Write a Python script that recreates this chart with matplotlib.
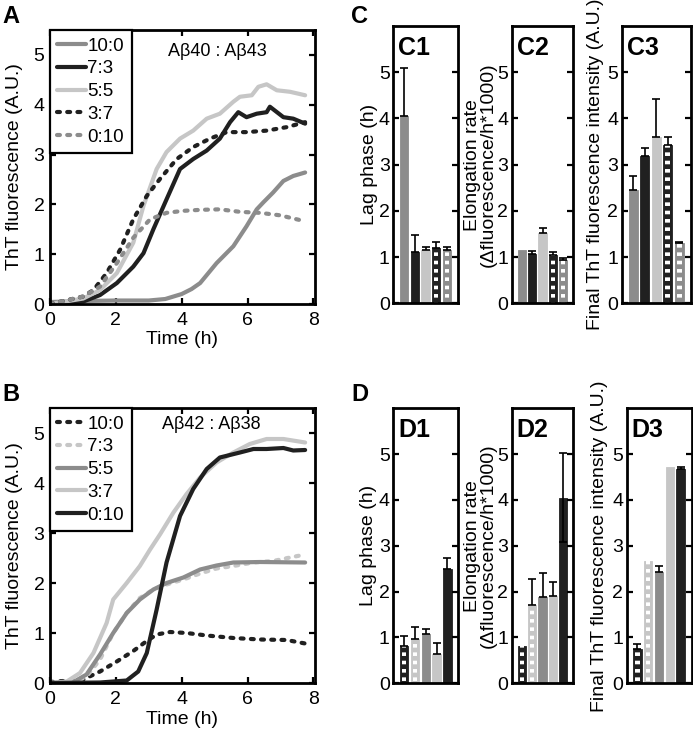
import numpy as np
import matplotlib
matplotlib.use('Agg')
import matplotlib.pyplot as plt

plt.rcParams['font.family'] = ['Liberation Sans', 'DejaVu Sans']
plt.rcParams['hatch.linewidth'] = 2.6
plt.rcParams['axes.linewidth'] = 2.0

W, H = 693, 733

ratios = ['10:0', '7:3', '5:5', '3:7', '0:10']

# --- panel A : Abeta40 : Abeta43 kinetics (time in h, ThT in A.U.)
a_t_100 = [0, 1, 2, 3, 3.5, 4.0, 4.3, 4.56, 5.06, 5.57, 5.97, 6.28, 6.48, 6.78, 7.09, 7.39, 7.75]
a_y_100 = [0.04, 0.06, 0.07, 0.07, 0.1, 0.2, 0.3, 0.42, 0.82, 1.16, 1.56, 1.9, 2.04, 2.24, 2.47, 2.57, 2.64]
a_t_73 = [0, 1.01, 1.52, 2.03, 2.53, 2.84, 3.14, 3.54, 3.95, 4.35, 4.76, 5.16, 5.47, 5.72, 5.97, 6.28, 6.58, 6.68, 7.09, 7.39, 7.75]
a_y_73 = [0, 0.05, 0.18, 0.42, 0.75, 1.02, 1.5, 2.1, 2.71, 2.91, 3.08, 3.32, 3.65, 3.85, 3.75, 3.82, 3.85, 3.96, 3.75, 3.72, 3.62]
a_t_55 = [0, 1.01, 1.52, 2.03, 2.53, 2.84, 3.24, 3.54, 3.95, 4.35, 4.76, 5.16, 5.57, 5.77, 6.13, 6.33, 6.58, 6.89, 7.29, 7.75]
a_y_55 = [0, 0.11, 0.28, 0.62, 1.23, 1.97, 2.71, 3.05, 3.32, 3.48, 3.72, 3.82, 4.06, 4.16, 4.19, 4.36, 4.41, 4.29, 4.26, 4.19]
a_t_37 = [0, 1.01, 1.32, 1.72, 2.13, 2.53, 2.94, 3.34, 3.85, 4.35, 4.86, 5.37, 5.97, 6.58, 7.19, 7.75]
a_y_37 = [0, 0.15, 0.28, 0.62, 1.09, 1.7, 2.17, 2.51, 2.91, 3.15, 3.32, 3.45, 3.45, 3.48, 3.55, 3.65]
a_t_010 = [0, 1.01, 1.52, 2.03, 2.53, 3.04, 3.54, 4.05, 4.56, 5.16, 5.77, 6.38, 6.99, 7.75]
a_y_010 = [0, 0.15, 0.35, 0.82, 1.33, 1.7, 1.83, 1.87, 1.89, 1.9, 1.85, 1.83, 1.78, 1.66]

# --- panel B : Abeta42 : Abeta38 kinetics
b_t_100 = [0, 1.01, 1.52, 2.03, 2.53, 2.94, 3.24, 3.65, 4.15, 4.76, 5.57, 6.38, 7.19, 7.75]
b_y_100 = [0.02, 0.07, 0.23, 0.43, 0.64, 0.84, 0.97, 1.02, 1.0, 0.95, 0.9, 0.87, 0.86, 0.79]
b_t_73 = [0, 0.81, 1.11, 1.52, 1.92, 2.33, 2.73, 3.14, 3.54, 4.05, 4.56, 5.06, 5.57, 6.18, 6.78, 7.29, 7.75]
b_y_73 = [0, 0.03, 0.13, 0.47, 1.0, 1.4, 1.7, 1.87, 1.97, 2.07, 2.19, 2.29, 2.34, 2.41, 2.44, 2.51, 2.57]
b_t_55 = [0, 0.71, 1.11, 1.52, 1.92, 2.33, 2.73, 3.14, 3.54, 4.05, 4.56, 5.06, 5.57, 6.38, 7.75]
b_y_55 = [0, 0.02, 0.17, 0.57, 1.0, 1.4, 1.67, 1.87, 2.0, 2.11, 2.27, 2.35, 2.41, 2.42, 2.41]
b_t_37 = [0, 0.51, 0.91, 1.32, 1.72, 1.92, 2.33, 2.73, 3.04, 3.34, 3.75, 4.15, 4.56, 5.06, 5.57, 6.07, 6.58, 7.09, 7.75]
b_y_37 = [0, 0.03, 0.2, 0.6, 1.2, 1.67, 2.0, 2.34, 2.67, 2.97, 3.41, 3.78, 4.11, 4.41, 4.61, 4.78, 4.88, 4.88, 4.81]
b_t_010 = [0, 1.52, 2.33, 2.68, 2.94, 3.24, 3.54, 3.95, 4.35, 4.76, 5.16, 5.77, 6.18, 6.58, 7.09, 7.39, 7.75]
b_y_010 = [0, 0.01, 0.05, 0.23, 0.6, 1.47, 2.41, 3.34, 3.88, 4.28, 4.51, 4.61, 4.68, 4.68, 4.7, 4.65, 4.66]

# --- panel C bars (Abeta40 : Abeta43)
c1_lag = [4.05, 1.1, 1.15, 1.2, 1.15]
c1_err = [1.05, 0.38, 0.06, 0.13, 0.06]
c2_rate = [1.15, 1.07, 1.53, 1.05, 0.93]
c2_err = [0, 0.06, 0.09, 0.05, 0.06]
c3_final = [2.45, 3.19, 3.59, 3.43, 1.3]
c3_err = [0.3, 0.16, 0.84, 0.17, 0.02]

# --- panel D bars (Abeta42 : Abeta38)
d1_lag = [0.82, 0.96, 1.07, 0.65, 2.49]
d1_err = [0.22, 0.26, 0.12, 0.22, 0.24]
d2_rate = [0.82, 1.71, 1.89, 1.91, 4.05]
d2_err = [0, 0.57, 0.51, 0.29, 0.97]
d2_err_lo = [0, 0, 0, 0, 0.97]
d3_final = [0.74, 2.67, 2.42, 4.71, 4.68]
d3_err = [0.11, 0, 0.14, 0, 0.05]

GRAY = '#8c8c8c'
DARK = '#202020'
LIGHT = '#c6c6c6'
DASH = (0, (0.7, 1.75))


def rect(l, t, r, b):
    return [l / W, 1 - b / H, (r - l) / W, (b - t) / H]


fig = plt.figure(figsize=(W / 100, H / 100), dpi=100)


def kinetics(r, series, styles, title, tpos):
    ax = fig.add_axes(rect(*r))
    for (t, y), (c, ls), lab in zip(series, styles, ratios):
        ax.plot(t, y, color=c, lw=3, ls=ls, label=lab,
                dash_capstyle='round', solid_capstyle='round')
    ax.set_xlim(0, 8.05)
    ax.set_ylim(0, 5.5)
    ax.set_xticks([0, 2, 4, 6, 8])
    ax.set_yticks([0, 1, 2, 3, 4, 5])
    ax.tick_params(direction='in', top=True, right=True, length=4, width=1.6,
                   labelsize=14, pad=4)
    ax.tick_params(axis='x', pad=6)
    ax.set_xlabel('Time (h)', fontsize=14)
    ax.set_ylabel('ThT fluorescence (A.U.)', fontsize=14)
    ax.xaxis.set_label_coords(0.5, -0.1)
    ax.yaxis.set_label_coords(-0.1, 0.5)
    ax.text(tpos[0], tpos[1], title, transform=ax.transAxes, fontsize=13,
            ha='center', va='center')
    leg = ax.legend(loc='upper left', fontsize=13.5, frameon=True, fancybox=False,
                    borderaxespad=0, borderpad=0.4, labelspacing=0.3,
                    handlelength=1.5, handletextpad=0.1)
    leg.get_frame().set_edgecolor('black')
    leg.get_frame().set_linewidth(1.6)
    leg.get_frame().set_alpha(1)
    return ax


kinetics((50, 30, 315, 304),
         [(a_t_100, a_y_100), (a_t_73, a_y_73), (a_t_55, a_y_55),
          (a_t_37, a_y_37), (a_t_010, a_y_010)],
         [(GRAY, '-'), (DARK, '-'), (LIGHT, '-'), (DARK, DASH), (GRAY, DASH)],
         'A\u03b240 : A\u03b243', (0.63, 0.92))

kinetics((50, 408, 315, 683),
         [(b_t_100, b_y_100), (b_t_73, b_y_73), (b_t_55, b_y_55),
          (b_t_37, b_y_37), (b_t_010, b_y_010)],
         [(DARK, DASH), (LIGHT, DASH), (GRAY, '-'), (LIGHT, '-'), (DARK, '-')],
         'A\u03b242 : A\u03b238', (0.61, 0.94))


def bars(r, name, vals, err, colors, striped, ylabel, lx, err_lo=None):
    ax = fig.add_axes(rect(*r))
    x = np.arange(1, len(vals) + 1)
    ax.bar(x, vals, width=0.78, color=colors, edgecolor=colors, lw=0.6)
    for xi, v, s in zip(x, vals, striped):
        if s:
            ax.bar(xi, v, width=0.4, facecolor='none', edgecolor='white',
                   hatch='--', lw=0)
    if err_lo is None:
        err_lo = [0] * len(vals)
    keep = [i for i in range(len(vals)) if err[i] > 0]
    ax.errorbar(x[keep], np.array(vals)[keep],
                yerr=[np.array(err_lo)[keep], np.array(err)[keep]],
                fmt='none', ecolor='black', elinewidth=1.2, capsize=2.8,
                capthick=1.2)
    ax.set_xlim(0, 6)
    ax.set_ylim(0, 6)
    ax.set_xticks([])
    ax.set_yticks([0, 1, 2, 3, 4, 5])
    ax.tick_params(direction='in', right=True, length=4, width=1.6,
                   labelsize=14, pad=2.5)
    ax.set_ylabel(ylabel, fontsize=14, linespacing=0.9)
    ax.yaxis.set_label_coords(lx, 0.5)
    ax.text(0.08, 0.965, name, transform=ax.transAxes, fontsize=18,
            fontweight='bold', ha='left', va='top')
    return ax


c_cols = [GRAY, DARK, LIGHT, DARK, GRAY]
c_str = [False, False, False, True, True]
d_cols = [DARK, LIGHT, GRAY, LIGHT, DARK]
d_str = [True, True, False, False, False]

lag_lab = 'Lag phase (h)'
rate_lab = 'Elongation rate\n(\u0394fluorescence/h*1000)'
fin_lab = 'Final ThT fluorescence intensity (A.U.)'

bars((393.3, 26, 457.7, 303.3), 'C1', c1_lag, c1_err, c_cols, c_str, lag_lab, -0.23)
bars((511.7, 26, 573.3, 303.3), 'C2', c2_rate, c2_err, c_cols, c_str, rate_lab, -0.24)
bars((621.7, 26, 690.7, 303.3), 'C3', c3_final, c3_err, c_cols, c_str, fin_lab, -0.25)
bars((393.3, 408.3, 458.3, 683.3), 'D1', d1_lag, d1_err, d_cols, d_str, lag_lab, -0.25)
bars((511.7, 408.3, 573.3, 683.3), 'D2', d2_rate, d2_err, d_cols, d_str, rate_lab, -0.24,
     err_lo=d2_err_lo)
bars((626.5, 408.3, 691.5, 683.3), 'D3', d3_final, d3_err, d_cols, d_str, fin_lab, -0.29)

for lab, px, py in [('A', 2, 5), ('B', 2, 383), ('C', 351, 5), ('D', 351, 383)]:
    fig.text(px / W, 1 - py / H, lab, fontsize=17, fontweight='bold',
             ha='left', va='top')

fig.savefig('out.png', dpi=100)
